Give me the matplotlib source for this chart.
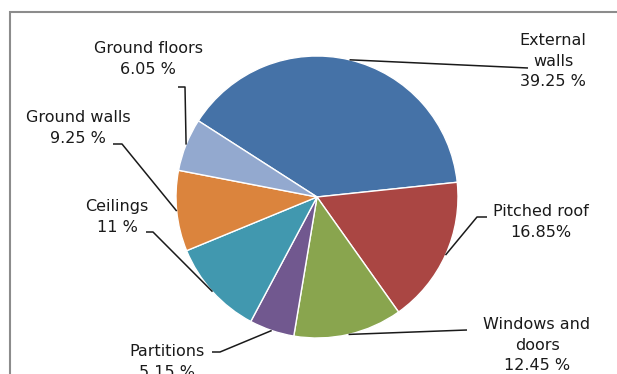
import numpy as np
import matplotlib.pyplot as plt
from matplotlib.patches import Rectangle

# share of heat loss per building element
labels = ['External\nwalls', 'Pitched roof', 'Windows and\ndoors', 'Partitions',
          'Ceilings', 'Ground walls', 'Ground floors']
values = [39.25, 16.85, 12.45, 5.15, 11.0, 9.25, 6.05]
value_text = ['39.25 %', '16.85%', '12.45 %', '5.15 %', '11 %', '9.25 %', '6.05 %']
colors = ['#4572A7', '#AA4643', '#89A54E', '#71588F', '#4198AF', '#DB843D', '#93A9CF']

W, H = 617, 374
cx, cy, r = 317, H - 197, 141

# label centre and the path of the leader line from the text towards the wedge
text_pos = [(553, 61), (541, 222), (537, 345), (167, 362), (117, 217), (78, 128), (148, 59)]
leader = [[(528, 68)],
          [(487, 217), (477, 217)],
          [(467, 330)],
          [(212, 352), (220, 352)],
          [(146, 232), (153, 232)],
          [(113, 144), (122, 144)],
          [(178, 87), (185, 87)]]

fig = plt.figure(figsize=(W / 100, H / 100), dpi=100)
ax = fig.add_axes([0, 0, 1, 1])

wedges, _ = ax.pie(values, colors=colors, startangle=147.3, counterclock=False,
                   center=(cx, cy), radius=r, frame=True,
                   wedgeprops=dict(edgecolor='white', linewidth=1))
ax.set_xlim(0, W)
ax.set_ylim(0, H)
ax.set_aspect('equal')
ax.axis('off')

for i, w in enumerate(wedges):
    mid = np.deg2rad((w.theta1 + w.theta2) / 2)
    end = (cx + r * np.cos(mid), cy + r * np.sin(mid))
    pts = [(x, H - y) for x, y in leader[i]] + [end]
    ax.plot([p[0] for p in pts], [p[1] for p in pts], color='#1a1a1a', lw=1.1,
            solid_capstyle='butt')
    tx, ty = text_pos[i]
    ax.text(tx, H - ty, labels[i] + '\n' + value_text[i], ha='center', va='center',
            fontsize=11.5, color='#1a1a1a', linespacing=1.45, family='DejaVu Sans')

# outer frame, open at the right and bottom
fig.patches.append(Rectangle((9.5 / W, -0.1), 1.2, (H - 12.5) / H + 0.1,
                             transform=fig.transFigure, fill=False,
                             edgecolor='#8c8c8c', lw=1.5))

fig.savefig('out.png', dpi=100)
